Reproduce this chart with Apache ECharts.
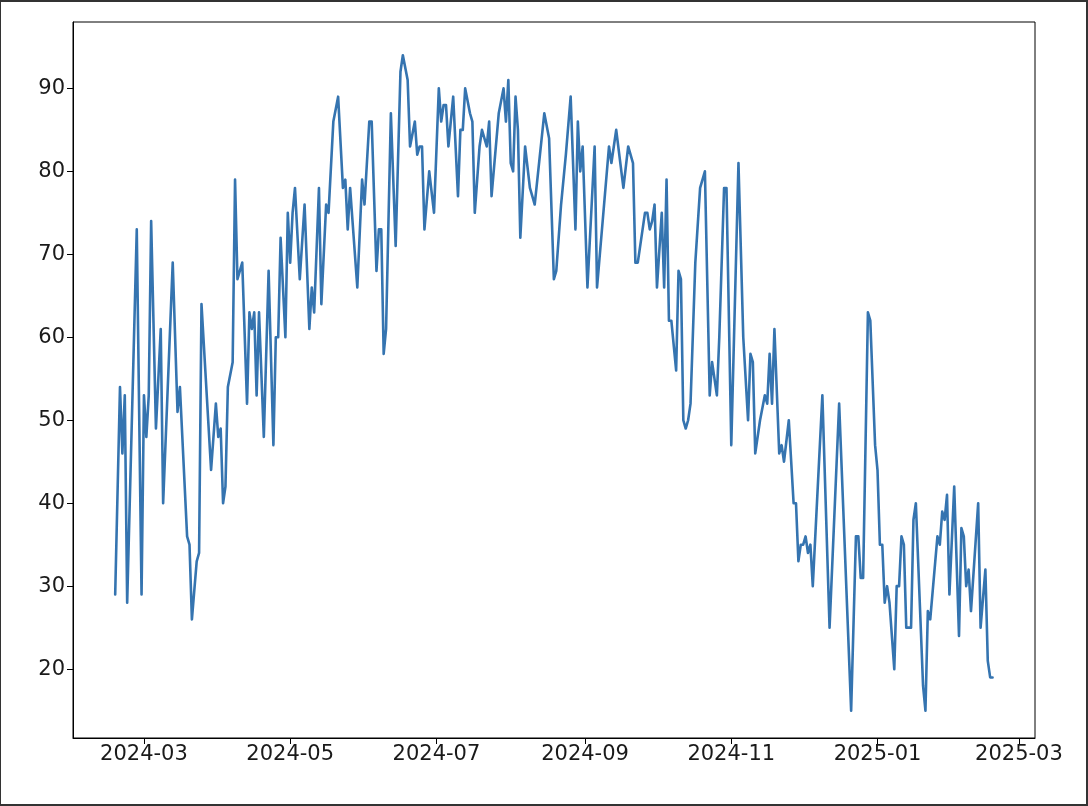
<!DOCTYPE html>
<html>
<head>
<meta charset="utf-8">
<script src="https://cdn.jsdelivr.net/npm/echarts@6/dist/echarts.min.js"></script>
<style>
  html, body { margin: 0; padding: 0; background: #fff; }
  #wrap { position: relative; width: 1088px; height: 806px; }
  #chart { position: absolute; left: 0; top: 0; width: 1088px; height: 806px; }
  #frame { position: absolute; left: 0; top: 0; width: 1088px; height: 806px; box-sizing: border-box;
           border: 2px solid #333; border-left-width: 1px; pointer-events: none; }
</style>
</head>
<body>
<div id="wrap"><div id="chart"></div><div id="frame"></div></div>
<script>
// Dates of the turning points (line is straight between them)
const dates = [
  '2024-02-18','2024-02-20','2024-02-21','2024-02-22','2024-02-23','2024-02-27','2024-02-29',
  '2024-03-01','2024-03-02','2024-03-03','2024-03-04','2024-03-06','2024-03-08','2024-03-09',
  '2024-03-13','2024-03-15','2024-03-16','2024-03-19','2024-03-20','2024-03-21','2024-03-23',
  '2024-03-24','2024-03-25','2024-03-29','2024-03-31',
  '2024-04-01','2024-04-02','2024-04-03','2024-04-04','2024-04-05','2024-04-07','2024-04-08',
  '2024-04-09','2024-04-11','2024-04-13','2024-04-14','2024-04-15','2024-04-16','2024-04-17',
  '2024-04-18','2024-04-20','2024-04-22','2024-04-24','2024-04-25','2024-04-26','2024-04-27',
  '2024-04-29','2024-04-30',
  '2024-05-01','2024-05-02','2024-05-03','2024-05-05','2024-05-07','2024-05-09','2024-05-10',
  '2024-05-11','2024-05-13','2024-05-14','2024-05-16','2024-05-17','2024-05-19','2024-05-21',
  '2024-05-23','2024-05-24','2024-05-25','2024-05-26','2024-05-29','2024-05-31',
  '2024-06-01','2024-06-03','2024-06-04','2024-06-06','2024-06-07','2024-06-08','2024-06-09',
  '2024-06-10','2024-06-12','2024-06-14','2024-06-16','2024-06-17','2024-06-19','2024-06-20',
  '2024-06-22','2024-06-23','2024-06-24','2024-06-25','2024-06-26','2024-06-28','2024-06-30',
  '2024-07-02','2024-07-03','2024-07-04','2024-07-05','2024-07-06','2024-07-08','2024-07-10',
  '2024-07-11','2024-07-12','2024-07-13','2024-07-15','2024-07-16','2024-07-17','2024-07-19',
  '2024-07-20','2024-07-22','2024-07-23','2024-07-24','2024-07-27','2024-07-29','2024-07-30',
  '2024-07-31',
  '2024-08-01','2024-08-02','2024-08-03','2024-08-04','2024-08-05','2024-08-07','2024-08-09',
  '2024-08-10','2024-08-11','2024-08-15','2024-08-17','2024-08-19','2024-08-20','2024-08-22',
  '2024-08-24','2024-08-26','2024-08-28','2024-08-29','2024-08-30','2024-08-31',
  '2024-09-02','2024-09-05','2024-09-06','2024-09-11','2024-09-12','2024-09-13','2024-09-14',
  '2024-09-17','2024-09-19','2024-09-21','2024-09-22','2024-09-23','2024-09-26','2024-09-27',
  '2024-09-28','2024-09-29','2024-09-30',
  '2024-10-01','2024-10-03','2024-10-04','2024-10-05','2024-10-06','2024-10-07','2024-10-09',
  '2024-10-10','2024-10-11','2024-10-12','2024-10-13','2024-10-14','2024-10-15','2024-10-17',
  '2024-10-19','2024-10-21','2024-10-23','2024-10-24','2024-10-26','2024-10-27','2024-10-29',
  '2024-10-30',
  '2024-11-01','2024-11-04','2024-11-06','2024-11-08','2024-11-09','2024-11-10','2024-11-11',
  '2024-11-13','2024-11-15','2024-11-16','2024-11-17','2024-11-18','2024-11-19','2024-11-21',
  '2024-11-22','2024-11-23','2024-11-25','2024-11-27','2024-11-28','2024-11-29','2024-11-30',
  '2024-12-01','2024-12-02','2024-12-03','2024-12-04','2024-12-05','2024-12-09','2024-12-12',
  '2024-12-16','2024-12-21','2024-12-23','2024-12-24','2024-12-25','2024-12-26','2024-12-28',
  '2024-12-29','2024-12-31',
  '2025-01-01','2025-01-02','2025-01-03','2025-01-04','2025-01-05','2025-01-06','2025-01-08',
  '2025-01-09','2025-01-10','2025-01-11','2025-01-12','2025-01-13','2025-01-14','2025-01-15',
  '2025-01-16','2025-01-17','2025-01-20','2025-01-21','2025-01-22','2025-01-23','2025-01-26',
  '2025-01-27','2025-01-28','2025-01-29','2025-01-30','2025-01-31',
  '2025-02-02','2025-02-04','2025-02-05','2025-02-06','2025-02-07','2025-02-08','2025-02-09',
  '2025-02-12','2025-02-13','2025-02-15','2025-02-16','2025-02-17','2025-02-18'
];
const values = [
  29,54,46,53,28,73,29,
  53,48,53,74,49,61,40,
  69,51,54,36,35,26,33,
  34,64,44,52,
  48,49,40,42,54,57,79,
  67,69,52,63,61,63,53,
  63,48,68,47,60,60,72,
  60,75,
  69,75,78,67,76,61,66,
  63,78,64,76,75,86,89,
  78,79,73,78,66,79,
  76,86,86,68,73,73,58,
  61,87,71,92,94,91,83,
  86,82,83,83,73,80,75,
  90,86,88,88,83,89,77,
  85,85,90,87,86,75,83,
  85,83,86,77,87,90,86,
  91,
  81,80,89,85,72,83,78,
  77,76,87,84,67,68,76,
  82,89,73,86,80,83,
  66,83,66,83,81,83,85,
  78,83,81,69,69,75,75,
  73,74,76,
  66,75,66,79,62,62,56,
  68,67,50,49,50,52,69,
  78,80,53,57,53,60,78,
  78,
  47,81,60,50,58,57,46,
  50,53,52,58,52,61,46,
  47,45,50,40,40,33,35,
  35,36,34,35,30,53,25,
  52,15,36,36,31,31,63,
  62,47,
  44,35,35,28,30,28,20,
  30,30,36,35,25,25,25,
  38,40,18,15,27,26,36,
  35,39,38,41,29,
  42,24,37,36,30,32,27,
  40,25,32,21,19,19
];
// Tick labels
const xTickLabels = ['2024-03','2024-05','2024-07','2024-09','2024-11','2025-01','2025-03'];
const yTickLabels = [20, 30, 40, 50, 60, 70, 80, 90];

const DAY = 86400000;
function toTime(s) { const p = s.split('-').map(Number); return Date.UTC(p[0], p[1] - 1, p[2] || 1); }
function fmtMonth(v) { const d = new Date(v); return d.getUTCFullYear() + '-' + String(d.getUTCMonth() + 1).padStart(2, '0'); }
const xTicks = xTickLabels.map(toTime);
const xMin = toTime('2024-03-01') - 29.6 * DAY;
const xMax = toTime('2024-03-01') + 371.7 * DAY;

const chart = echarts.init(document.getElementById('chart'), null, { renderer: 'canvas' });
const font = 'DejaVu Sans';
chart.setOption({
  animation: false,
  backgroundColor: '#ffffff',
  grid: { left: 73, right: 53, top: 22, bottom: 68, show: true, borderColor: '#000', borderWidth: 1, backgroundColor: 'transparent' },
  xAxis: {
    type: 'value', min: xMin, max: xMax, scale: true,
    axisLine: { show: true, onZero: false, lineStyle: { color: '#000', width: 1 } },
    axisTick: { show: true, customValues: xTicks, length: 6, lineStyle: { color: '#000', width: 1 } },
    axisLabel: { show: true, customValues: xTicks, margin: 6, color: '#1a1a1a', fontFamily: font, fontSize: 21, formatter: fmtMonth },
    splitLine: { show: false }
  },
  yAxis: {
    type: 'value', min: 11.7, max: 98,
    axisLine: { show: true, onZero: false, lineStyle: { color: '#000', width: 1 } },
    axisTick: { show: true, customValues: yTickLabels, length: 6, lineStyle: { color: '#000', width: 1 } },
    axisLabel: { show: true, customValues: yTickLabels, margin: 8, color: '#1a1a1a', fontFamily: font, fontSize: 21 },
    splitLine: { show: false }
  },
  series: [{
    type: 'line',
    data: dates.map((d, i) => [toTime(d), values[i]]),
    showSymbol: false,
    symbol: 'none',
    lineStyle: { color: '#3574b0', width: 2.6, join: 'round', cap: 'round' },
    itemStyle: { color: '#3574b0' }
  }]
});
</script>
</body>
</html>
